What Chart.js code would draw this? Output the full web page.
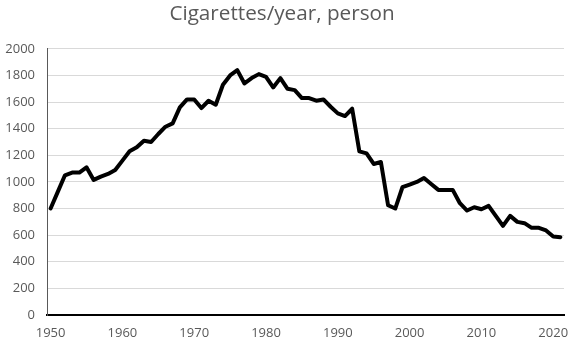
<!DOCTYPE html>
<html><head><meta charset="utf-8">
<script src="https://cdn.jsdelivr.net/npm/chart.js"></script>
<style>html,body{margin:0;padding:0;background:#fff}#wrap{width:572px;height:344px}</style>
</head><body><div id="wrap"><canvas id="c" width="572" height="344"></canvas></div>
<script>
const years = [1950,1951,1952,1953,1954,1955,1956,1957,1958,1959,
  1960,1961,1962,1963,1964,1965,1966,1967,1968,1969,
  1970,1971,1972,1973,1974,1975,1976,1977,1978,1979,
  1980,1981,1982,1983,1984,1985,1986,1987,1988,1989,
  1990,1991,1992,1993,1994,1995,1996,1997,1998,1999,
  2000,2001,2002,2003,2004,2005,2006,2007,2008,2009,
  2010,2011,2012,2013,2014,2015,2016,2017,2018,2019,
  2020,2021];
const cigarettes = [800,925,1050,1070,1070,1110,1015,1040,1060,1090,
  1160,1230,1260,1310,1300,1360,1415,1440,1560,1620,
  1620,1555,1610,1580,1730,1800,1840,1740,1780,1810,
  1790,1710,1780,1700,1690,1630,1630,1610,1620,1565,
  1515,1495,1550,1230,1215,1135,1150,825,800,960,
  980,1000,1030,985,940,940,940,840,785,810,
  795,820,745,670,745,700,690,655,655,635,
  590,585];
const tickYears = [1950,1960,1970,1980,1990,2000,2010,2020];
const titleText = 'Cigarettes/year, person';

const FONT = "'Open Sans', sans-serif";
new Chart(document.getElementById('c'), {
  type: 'line',
  data: {
    labels: years,
    datasets: [{
      data: cigarettes,
      borderColor: '#000',
      borderWidth: 4,
      pointRadius: 0,
      tension: 0,
      borderJoinStyle: 'round',
      borderCapStyle: 'round',
      fill: false
    }]
  },
  options: {
    responsive: false,
    animation: false,
    layout: { padding: { left: 0, right: 8, top: 0, bottom: 0 } },
    plugins: {
      legend: { display: false },
      tooltip: { enabled: false },
      title: {
        display: true,
        text: titleText,
        color: '#595959',
        font: { family: FONT, size: 20.7, weight: 'normal' },
        padding: { top: 2, bottom: 22 }
      }
    },
    scales: {
      x: {
        type: 'category',
        offset: true,
        afterFit: function(s) { s.height = 29; s.paddingRight = 0; s.paddingLeft = 0; },
        grid: { display: false, drawTicks: false },
        border: { display: true, color: '#000', width: 2 },
        ticks: {
          autoSkip: false,
          maxRotation: 0,
          color: '#595959',
          padding: 10,
          font: { family: FONT, size: 13 },
          callback: function(v, i) { return tickYears.includes(years[i]) ? String(years[i]) : null; }
        }
      },
      y: {
        min: 0, max: 2000,
        afterFit: function(s) { s.width = 47; },
        grid: { color: '#d9d9d9', lineWidth: 1, drawTicks: false },
        border: { display: true, color: '#595959', width: 1 },
        ticks: {
          stepSize: 200,
          color: '#595959',
          padding: 12,
          font: { family: FONT, size: 13 },
          callback: function(v) { return String(v); }
        }
      }
    }
  }
});
</script>
</body></html>
